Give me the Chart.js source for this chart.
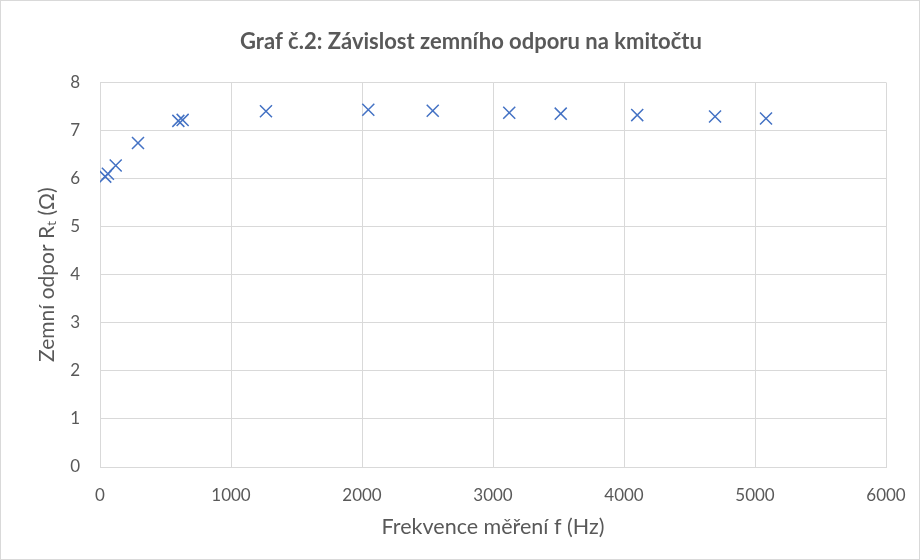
<!DOCTYPE html>
<html>
<head>
<meta charset="utf-8">
<script src="https://cdn.jsdelivr.net/npm/chart.js@4"></script>
<style>
  html, body { margin: 0; padding: 0; background: #fff; }
  #wrap { width: 920px; height: 560px; position: relative; box-sizing: border-box; border: 1px solid #d9d9d9; }
</style>
</head>
<body>
<div id="wrap"><canvas id="c" width="918" height="558"></canvas></div>
<script>
const frequencies = [40, 60, 120, 290, 598, 631, 1267, 2048, 2540, 3124, 3517, 4101, 4695, 5084];
const resistance = [6.04, 6.10, 6.27, 6.74, 7.20, 7.22, 7.40, 7.43, 7.41, 7.37, 7.35, 7.32, 7.29, 7.25];
const xTicks = [0, 1000, 2000, 3000, 4000, 5000, 6000];
const yTicks = [0, 1, 2, 3, 4, 5, 6, 7, 8];
const titleText = 'Graf č.2: Závislost zemního odporu na kmitočtu';
const xTitle = 'Frekvence měření f (Hz)';
const yTitle = 'Zemní odpor R\u209C (Ω)';

const FONT = "Lato, 'Open Sans', sans-serif";
const TXT = '#595959';
const GRID = '#d9d9d9';

const points = frequencies.map((f, i) => ({ x: f, y: resistance[i] }));

const titleCenter = {
  id: 'titleCenter',
  afterLayout(chart) {
    const tb = chart.titleBlock;
    if (tb) { tb.left = 0; tb.right = 940; tb.width = 940; }
  }
};

new Chart(document.getElementById('c'), {
  type: 'scatter',
  data: {
    datasets: [{
      data: points,
      pointStyle: 'crossRot',
      pointRadius: 8.5,
      pointHoverRadius: 8.5,
      borderColor: '#4472C4',
      backgroundColor: '#4472C4',
      pointBorderWidth: 1.5,
      showLine: false
    }]
  },
  plugins: [titleCenter],
  options: {
    responsive: false,
    animation: false,
    layout: { padding: { left: 30, right: 33, top: 0, bottom: 0 } },
    plugins: {
      legend: { display: false },
      tooltip: { enabled: false },
      title: {
        display: true,
        text: titleText,
        color: TXT,
        font: { family: FONT, size: 22, weight: 'bold' },
        padding: { top: 28, bottom: 27 }
      }
    },
    scales: {
      x: {
        type: 'linear',
        min: 0, max: 6000,
        afterBuildTicks: s => { s.ticks = xTicks.map(v => ({ value: v })); },
        afterFit: s => { s.height = 92; s.paddingLeft = 0; s.paddingRight = 0; },
        grid: { color: GRID, lineWidth: 1, drawTicks: false },
        border: { color: GRID },
        ticks: { color: TXT, font: { family: FONT, size: 17 }, padding: 18, maxRotation: 0, callback: v => String(v) },
        title: { display: true, text: xTitle, color: TXT, font: { family: FONT, size: 21.5 }, padding: { top: 4, bottom: 19 } }
      },
      y: {
        type: 'linear',
        min: 0, max: 8,
        afterBuildTicks: s => { s.ticks = yTicks.map(v => ({ value: v })); },
        afterFit: s => { s.width = 69; s.paddingTop = 0; s.paddingBottom = 0; },
        grid: { color: GRID, lineWidth: 1, drawTicks: false },
        border: { color: GRID },
        ticks: { color: TXT, font: { family: FONT, size: 17 }, padding: 20, callback: v => String(v) },
        title: { display: true, text: yTitle, color: TXT, font: { family: FONT, size: 21 }, padding: { top: 4, bottom: 0 } }
      }
    }
  }
});
</script>
</body>
</html>
